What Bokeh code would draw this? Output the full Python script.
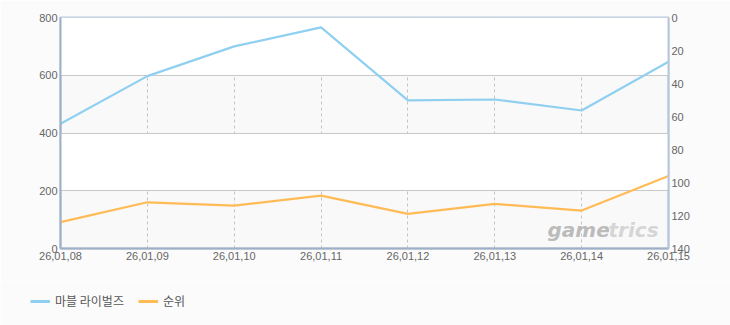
from bokeh.plotting import figure
from bokeh.layouts import column, row
from bokeh.models import Range1d, LinearAxis, Legend, LegendItem, FixedTicker, Label
from bokeh.embed import file_html
from bokeh.resources import INLINE

dates = ["26,01,08", "26,01,09", "26,01,10", "26,01,11", "26,01,12", "26,01,13", "26,01,14", "26,01,15"]
game_values = [432, 597, 700, 766, 513, 516, 478, 647]
rank_values = [124, 112, 114, 108, 119, 113, 117, 96]
left_ticks = [0, 200, 400, 600, 800]
right_ticks = [0, 20, 40, 60, 80, 100, 120, 140]
series_names = ["마블 라이벌즈", "순위"]
series_colors = ["#8fd0f0", "#ffbb55"]

xs = list(range(len(dates)))
BG = "#fbfbfb"

p = figure(width=730, height=280, output_backend="svg", toolbar_location=None,
           x_range=Range1d(0, len(dates) - 1), y_range=Range1d(0, 800),
           min_border_left=60, min_border_right=62, min_border_top=17, min_border_bottom=32)
p.extra_y_ranges = {"rank": Range1d(140, 0)}

p.background_fill_color = "#f9f9f9"
p.border_fill_color = BG
p.outline_line_color = "#b7c8dc"
p.outline_line_width = 2

label_font = "Liberation Sans"


def style_axis(ax, line_color):
    ax.major_tick_line_color = None
    ax.minor_tick_line_color = None
    ax.major_tick_out = 0
    ax.major_tick_in = 0
    ax.minor_tick_out = 0
    ax.axis_line_color = line_color
    ax.axis_line_width = 2
    ax.major_label_text_color = "#666666"
    ax.major_label_text_font = label_font
    ax.major_label_text_font_size = "11px"
    ax.major_label_standoff = 3


style_axis(p.xaxis[0], "#9fb0c6")
style_axis(p.yaxis[0], "#9fb0c6")

p.xaxis.ticker = FixedTicker(ticks=xs)
p.xaxis.major_label_overrides = {i: d for i, d in enumerate(dates)}
p.yaxis.ticker = FixedTicker(ticks=left_ticks)

rax = LinearAxis(y_range_name="rank", ticker=FixedTicker(ticks=right_ticks))
style_axis(rax, "#b7c8dc")
p.add_layout(rax, "right")

p.ygrid.grid_line_color = "#c8c8c8"
p.ygrid.grid_line_width = 1
p.ygrid.ticker = FixedTicker(ticks=left_ticks)
p.ygrid.band_fill_color = "#ffffff"
p.ygrid.band_fill_alpha = 1
p.xgrid.grid_line_color = "#c4c4c4"
p.xgrid.grid_line_dash = "3 3"
p.xgrid.ticker = FixedTicker(ticks=xs[1:-1])

wm1 = Label(x=487, y=7, x_units="screen", y_units="screen", text="game",
            text_font="DejaVu Sans", text_font_style="bold italic", text_font_size="20px",
            text_color="#b0b0b0", text_alpha=0.85, text_align="left")
wm2 = Label(x=548, y=7, x_units="screen", y_units="screen", text="trics",
            text_font="DejaVu Sans", text_font_style="bold italic", text_font_size="20px",
            text_color="#cfcfcf", text_alpha=0.85, text_align="left")
p.add_layout(wm1)
p.add_layout(wm2)

p.line(xs, game_values, line_color=series_colors[0], line_width=2.2)
p.line(xs, rank_values, line_color=series_colors[1], line_width=2.2, y_range_name="rank")

# legend strip below the chart; its lines sit outside the visible range,
# only their legend swatches show
lg = figure(width=730, height=45, output_backend="svg", toolbar_location=None,
            x_range=Range1d(0, 1), y_range=Range1d(-2, -1),
            min_border=0, x_axis_type=None, y_axis_type=None)
lg.background_fill_color = BG
lg.border_fill_color = BG
lg.outline_line_color = None
lg.grid.visible = False
k1 = lg.line(xs, game_values, line_color=series_colors[0], line_width=3)
k2 = lg.line(xs, rank_values, line_color=series_colors[1], line_width=3)
legend = Legend(items=[LegendItem(label=series_names[0], renderers=[k1]),
                       LegendItem(label=series_names[1], renderers=[k2])],
                location=(30, 16), orientation="horizontal")
legend.label_text_font = "Noto Sans CJK KR"
legend.label_text_font_size = "12px"
legend.label_text_color = "#555555"
legend.background_fill_alpha = 0
legend.border_line_color = None
legend.glyph_width = 20
legend.glyph_height = 16
legend.label_height = 16
legend.spacing = 14
legend.label_standoff = 5
legend.padding = 0
legend.margin = 0
lg.add_layout(legend, "center")

layout = column(p, row(lg, spacing=0), spacing=0)
open("out.html", "w").write(file_html(layout, INLINE))
